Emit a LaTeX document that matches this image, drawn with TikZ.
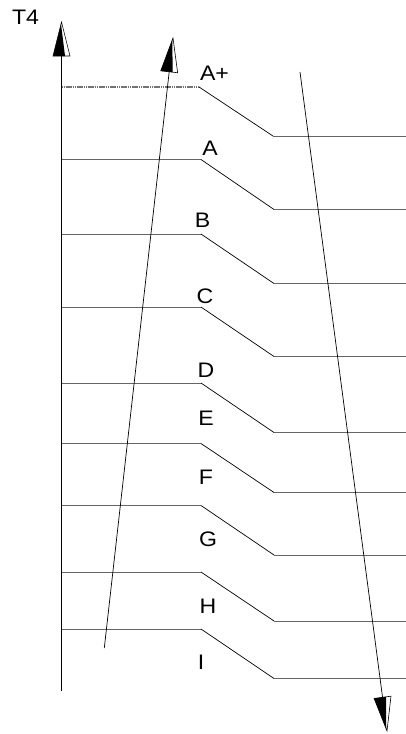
\documentclass[tikz,border=0pt]{standalone}
\usepackage{fontspec}
\setmainfont{Liberation Sans}
\usetikzlibrary{calc}
\tikzset{
  lev/.style={draw=black!60, line width=0.8pt},
  diag/.style={draw=black, line width=0.7pt},
  axisline/.style={draw=black, line width=0.8pt},
  lbl/.style={font=\fontsize{21}{24}\selectfont, inner sep=0pt, anchor=center, xscale=1.1},
  dotlev/.style={draw=black!55, line width=1.1pt, dash pattern=on 1.6pt off 0.6pt}
}
% half-filled arrowhead: #1 tail, #2 tip, #3 rotation sign for filled side
\newcommand\halfarrowhead[3]{%
  \coordinate (hb) at ($(#2)!34pt!(#1)$);
  \coordinate (hf) at ($(hb)!8.5pt!#3:(#2)$);
  \coordinate (ho) at ($(hb)!8.5pt!-#3:(#2)$);
  \coordinate (hm) at ($(hb)!3.5pt!-#3:(#2)$);
  \filldraw[fill=white, draw=black, line width=0.6pt] (#2) -- (hf) -- (ho) -- cycle;
  \fill[black] ($(#2)!2pt!(hf)$) -- (hf) -- (hm) -- cycle;
}
\begin{document}
\begin{tikzpicture}[x=1pt, y=-1pt]
  \useasboundingbox (0,0) rectangle (406,734);
  % axis
  \coordinate (axb) at (61.5,691);
  \coordinate (axt) at (61.5,22);
  \draw[axisline] (axb) -- ($(axt)!30pt!(axb)$);
  \halfarrowhead{axb}{axt}{90}
  \node[lbl] (t4) at (25.5,17.5) {T4};
  % levels
  \foreach \n/\l/\r in {a/159.5/209.5, b/234/283.5, c/307/356.5, d/383/432.5,
                        e/443.5/492.5, f/505.5/555, g/572/621, h/629/678.5}{
    \coordinate (\n0) at (61.5,\l);
    \coordinate (\n1) at (201,\l);
    \coordinate (\n2) at (274,\r);
    \coordinate (\n3) at (406,\r);
    \draw[lev] (\n0) -- (\n1);
    \draw[diag] (\n1) -- (\n2);
    \draw[lev] (\n2) -- (\n3);
  }
  % A+ level (dotted start)
  \coordinate (ap0) at (61.5,87);
  \coordinate (ap1) at (199,87);
  \coordinate (ap2) at (273,136);
  \coordinate (ap3) at (406,136);
  \draw[dotlev] (ap0) -- (ap1);
  \draw[diag] (ap1) -- (ap2);
  \draw[lev] (ap2) -- (ap3);
  % labels
  \node[lbl] (lap) at (214.5,73) {A+};
  \node[lbl] (la) at (210,148) {A};
  \node[lbl] (lb) at (202.5,220) {B};
  \node[lbl] (lc) at (205,296) {C};
  \node[lbl] (ld) at (206,370) {D};
  \node[lbl] (le) at (206,418) {E};
  \node[lbl] (lf) at (206,477) {F};
  \node[lbl] (lg) at (208,539) {G};
  \node[lbl] (lh) at (208,606) {H};
  \node[lbl] (li) at (201,662) {I};
  % rising arrow
  \coordinate (ub) at (104.3,648);
  \coordinate (ut) at (173,38);
  \draw[diag] (ub) -- ($(ut)!30pt!(ub)$);
  \halfarrowhead{ub}{ut}{90}
  % falling arrow
  \coordinate (db) at (300,72);
  \coordinate (dt) at (387,731);
  \draw[diag] (db) -- ($(dt)!30pt!(db)$);
  \halfarrowhead{db}{dt}{-90}
\end{tikzpicture}
\end{document}
